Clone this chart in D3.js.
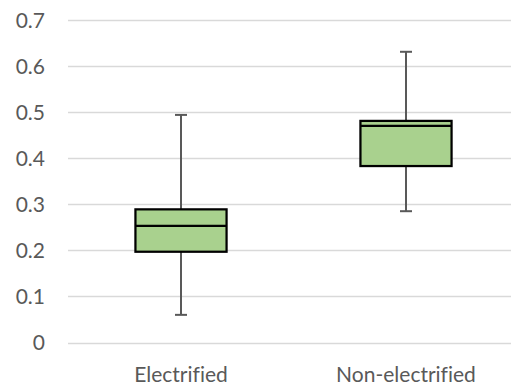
<!DOCTYPE html>
<html><head><meta charset="utf-8">
<script src="https://cdn.jsdelivr.net/npm/d3@7"></script>
<style>body{margin:0;background:#fff;}svg{display:block;}text{font-variant-ligatures:none;}</style>
</head><body>
<svg id="c" width="511" height="385"></svg>
<script>
const categories = ["Electrified", "Non-electrified"];
const mins    = [0.060, 0.285];
const q1s     = [0.197, 0.383];
const medians = [0.253, 0.470];
const q3s     = [0.289, 0.481];
const maxs    = [0.494, 0.631];
const yTicks  = [0, 0.1, 0.2, 0.3, 0.4, 0.5, 0.6, 0.7];

const svg = d3.select("#c");
const font = "Lato, 'Open Sans', sans-serif";
const y = d3.scaleLinear().domain([0, 0.7]).range([342.5, 20]);
const x = d3.scaleBand().domain(categories).range([68.5, 518.5]).paddingInner(0).paddingOuter(0);

// gridlines
svg.append("g").selectAll("line").data(yTicks).join("line")
  .attr("x1", 68).attr("x2", 511)
  .attr("y1", d => Math.round(y(d)) + 0.5).attr("y2", d => Math.round(y(d)) + 0.5)
  .attr("stroke", "#d9d9d9").attr("stroke-width", 1.5);

// y labels
svg.append("g").selectAll("text").data(yTicks).join("text")
  .attr("x", 45).attr("y", d => y(d) + 7.5)
  .attr("text-anchor", "end")
  .attr("font-family", font).attr("font-size", 21).attr("fill", "#595959")
  .text(d => d === 0 ? "0" : d3.format(".1f")(d));

// x labels
svg.append("g").selectAll("text").data(categories).join("text")
  .attr("x", d => x(d) + x.bandwidth() / 2).attr("y", 381.5)
  .attr("text-anchor", "middle")
  .attr("font-family", font).attr("font-size", 21).attr("fill", "#595959")
  .text(d => d);

const data = categories.map((c, i) => ({c, min: mins[i], q1: q1s[i], med: medians[i], q3: q3s[i], max: maxs[i]}));
const boxW = x.bandwidth() * 0.405;
const capW = 12;
const g = svg.append("g").selectAll("g").data(data).join("g");
const cx = d => x(d.c) + x.bandwidth() / 2;

// whiskers
g.append("line").attr("x1", cx).attr("x2", cx).attr("y1", d => y(d.max)).attr("y2", d => y(d.q3))
  .attr("stroke", "#595959").attr("stroke-width", 2);
g.append("line").attr("x1", cx).attr("x2", cx).attr("y1", d => y(d.q1)).attr("y2", d => y(d.min))
  .attr("stroke", "#595959").attr("stroke-width", 2);
g.append("line").attr("x1", d => cx(d) - capW / 2).attr("x2", d => cx(d) + capW / 2)
  .attr("y1", d => y(d.max)).attr("y2", d => y(d.max)).attr("stroke", "#595959").attr("stroke-width", 2);
g.append("line").attr("x1", d => cx(d) - capW / 2).attr("x2", d => cx(d) + capW / 2)
  .attr("y1", d => y(d.min)).attr("y2", d => y(d.min)).attr("stroke", "#595959").attr("stroke-width", 2);

// box
g.append("rect").attr("x", d => cx(d) - boxW / 2).attr("width", boxW)
  .attr("y", d => y(d.q3)).attr("height", d => y(d.q1) - y(d.q3))
  .attr("fill", "#a9d18e").attr("stroke", "#000").attr("stroke-width", 2.25);
g.append("line").attr("x1", d => cx(d) - boxW / 2).attr("x2", d => cx(d) + boxW / 2)
  .attr("y1", d => y(d.med)).attr("y2", d => y(d.med)).attr("stroke", "#000").attr("stroke-width", 2.25);
</script>
</body></html>
